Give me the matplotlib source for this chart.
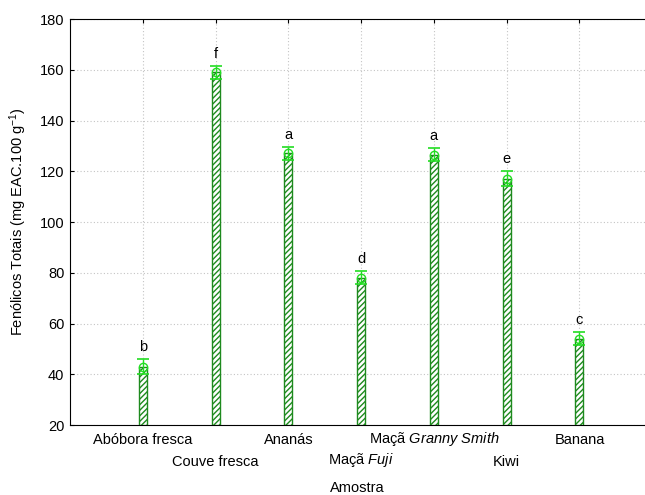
import matplotlib
matplotlib.use("Agg")
import matplotlib.pyplot as plt

plt.rcParams["font.family"] = ["Liberation Sans", "DejaVu Sans"]
plt.rcParams["mathtext.fontset"] = "custom"
plt.rcParams["mathtext.rm"] = "Liberation Sans"
plt.rcParams["mathtext.it"] = "Liberation Sans:italic"
plt.rcParams["hatch.color"] = "#1e9a1e"
plt.rcParams["hatch.linewidth"] = 1.0

amostras = ["Abóbora fresca", "Couve fresca", "Ananás", r"Maçã $\it{Fuji}$",
            r"Maçã $\it{Granny\ Smith}$", "Kiwi", "Banana"]
medias = [43, 159, 127, 78, 126.5, 117, 54]
erros = [3, 2.5, 2.5, 2.5, 2.5, 3, 2.5]
letras = ["b", "f", "a", "d", "a", "e", "c"]

x = list(range(1, len(amostras) + 1))
fs = 10.5

fig = plt.figure(figsize=(6.45, 4.95), dpi=100)
ax = fig.add_axes([0.1085, 0.1414, 0.8915, 0.8202])

ax.bar(x, [m - 20 for m in medias], bottom=20, width=0.11, color="white",
       edgecolor="#1e8a1e", hatch="//////", linewidth=1.0, zorder=3)
ax.errorbar(x, medias, yerr=erros, fmt="o", mfc="none", mec="#22dd22",
            ecolor="#22dd22", ms=6, capsize=4, elinewidth=1, capthick=1.2, zorder=4)

for xi, m, e, l in zip(x, medias, erros, letras):
    ax.text(xi, m + e + 2.0, l, ha="center", va="bottom", fontsize=fs)

ax.set_xlim(0, 7.9)
ax.set_ylim(20, 180)
ax.set_yticks(range(20, 181, 20))
ax.set_xticks(x)
ax.set_xticklabels(amostras)
ax.tick_params(axis="both", direction="in", length=3, labelsize=fs, top=True, pad=4)
for i, t in enumerate(ax.get_xticklabels()):
    y = -0.007 if i % 2 == 0 else -0.059
    if "$" in amostras[i]:
        y += 0.009
    t.set_y(y)
ax.spines["right"].set_visible(False)
ax.grid(True, linestyle=(0, (1, 2)), color="#c4c4c4", linewidth=0.8, zorder=0)

ax.set_xlabel("Amostra", fontsize=fs)
ax.xaxis.set_label_coords(0.5, -0.138)
ax.set_ylabel(r"Fenólicos Totais (mg EAC.100 g$^{-1}$)", fontsize=fs, labelpad=8)

fig.savefig("out.png", dpi=100)
